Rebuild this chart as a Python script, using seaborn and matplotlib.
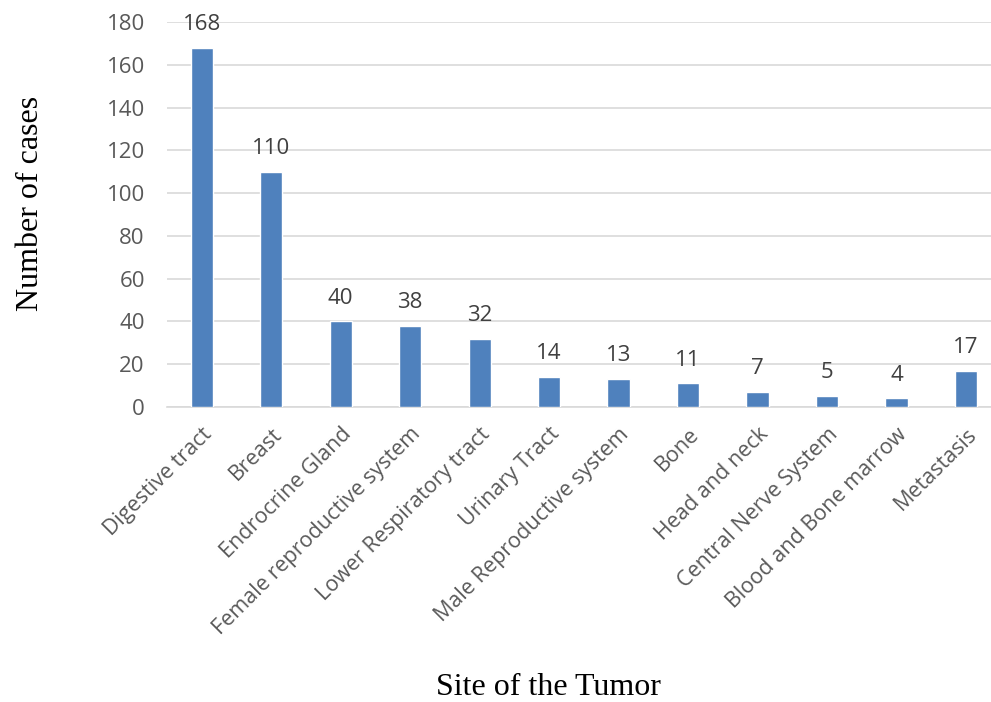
import matplotlib
matplotlib.use('Agg')
import matplotlib.pyplot as plt
import seaborn as sns
import pandas as pd

# Dados do gráfico
sites = ['Digestive tract', 'Breast', 'Endrocrine Gland', 'Female reproductive system',
         'Lower Respiratory tract', 'Urinary Tract', 'Male Reproductive system', 'Bone',
         'Head and neck', 'Central Nerve System', 'Blood and Bone marrow', 'Metastasis']
cases = [168, 110, 40, 38, 32, 14, 13, 11, 7, 5, 4, 17]
yticks = [0, 20, 40, 60, 80, 100, 120, 140, 160, 180]

data = pd.DataFrame({'Site': sites, 'Cases': cases})

sns.set_style("white")
plt.rcParams['font.family'] = ['Open Sans', 'DejaVu Sans']

fig = plt.figure(figsize=(9.91, 7.02), dpi=100)
ax = fig.add_axes([167 / 991, 1 - 407 / 702, (991 - 167) / 991, (407 - 22) / 702])

sns.barplot(x='Site', y='Cases', data=data, color='#4F81BD', saturation=1,
            width=0.32, ax=ax, zorder=3)

# Rótulos de valores
for i, v in enumerate(cases):
    ax.text(i, v + 6, str(v), ha='center', va='bottom', fontsize=16, color='#404040')

ax.set_ylim(0, 180)
ax.set_xlim(-0.5, 11.36)
ax.set_yticks(yticks)
ax.yaxis.grid(True, color='#D9D9D9', linewidth=1.2, zorder=0)
for s in ['top', 'right', 'left']:
    ax.spines[s].set_visible(False)
ax.spines['bottom'].set_color('#D9D9D9')
ax.spines['bottom'].set_linewidth(1.2)
ax.tick_params(axis='y', length=0, colors='#595959', labelsize=16, pad=16)
ax.tick_params(axis='x', length=0, colors='#595959', labelsize=15.5, pad=12)
ax.set_xticks(range(len(sites)))
ax.set_xticklabels(sites, rotation=45, ha='right', rotation_mode='anchor')

ax.set_xlabel('Site of the Tumor', family='Liberation Serif', fontsize=23, color='black')
ax.set_ylabel('Number of cases', family='Liberation Serif', fontsize=23, color='black')
ax.xaxis.set_label_coords(0.463, -0.69)
ax.yaxis.set_label_coords(-0.148, 0.53)

plt.savefig('out.png', dpi=100)
